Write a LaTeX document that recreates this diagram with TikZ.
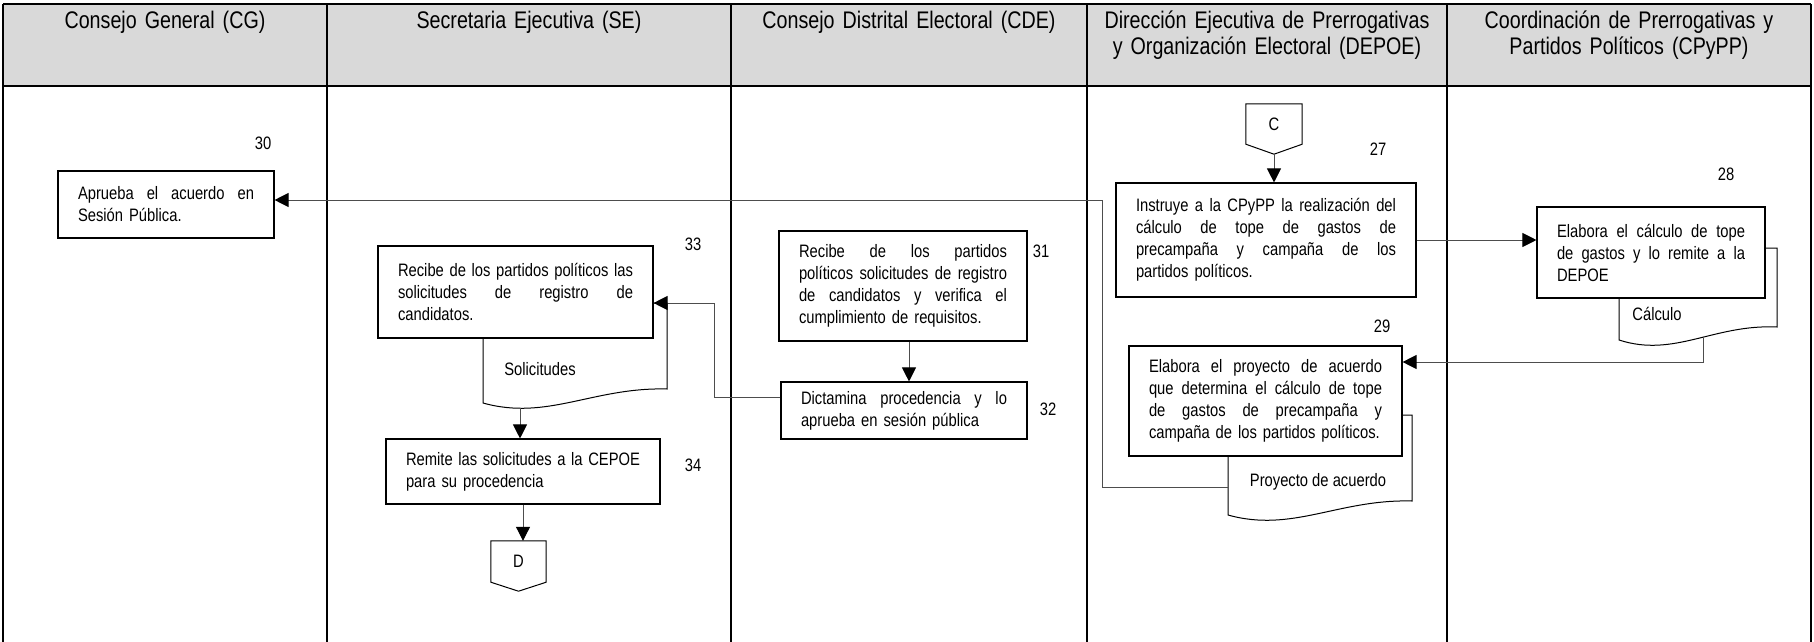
\documentclass[tikz,border=0pt]{standalone}
\usepackage{fontspec}
\setmainfont{Liberation Sans}[FakeStretch=0.82]
\usetikzlibrary{positioning,arrows.meta,calc}
\definecolor{cHead}{HTML}{D9D9D9}
\definecolor{cLine}{HTML}{4D4D4D}
\newcommand{\jl}[1]{\makebox[\linewidth][s]{\spaceskip=\fontdimen2\font plus 1fil\relax #1}}
% document symbol: left, top, right, bottom-left y, bottom-right y
\newcommand{\docshape}[5]{%
  \draw[docline] (#1,#2) -- (#3,#2) -- (#3,#5)
    .. controls ({#1+0.6*(#3-#1)},{#4-16}) and ({#1+0.35*(#3-#1)},{#4+18}) .. (#1,#4) -- cycle;}
\tikzset{
  lane/.style={line width=2.4pt,draw=black},
  lanehead/.style={text width=350pt,align=center,anchor=base,inner sep=0pt,font=\fontsize{24}{26}\selectfont},
  proc/.style={draw=black,fill=white,line width=1.1pt,inner xsep=20pt,inner ysep=0pt,align=left,font=\fontsize{18}{22}\selectfont},
  num/.style={inner sep=0pt,font=\fontsize{18}{22}\selectfont},
  doctxt/.style={inner sep=0pt,font=\fontsize{18}{22}\selectfont},
  docline/.style={draw=black,fill=white,line width=1pt},
  offpg/.style={minimum width=56pt,minimum height=40pt,inner sep=0pt,font=\fontsize{18}{22}\selectfont},
  offline/.style={draw=black,line width=1pt},
  flow/.style={-{Triangle[length=14pt,width=14pt,color=black]},line width=1pt,draw=cLine},
}
\begin{document}
\begin{tikzpicture}[x=1pt,y=-1pt]
  \useasboundingbox (0,0) rectangle (1814,642);
  % lanes
  \fill[cHead] (3,4) rectangle (1811,86);
  \draw[lane] (3,4) -- (1811,4) (3,86) -- (1811,86);
  \foreach \x in {3,327,731,1087,1447,1811}
    \draw[lane] (\x,4) -- (\x,642);

  \node[lanehead] (hCG) at (165,29) {Consejo General (CG)};
  \node[lanehead] (hSE) at (529,29) {Secretaria Ejecutiva (SE)};
  \node[lanehead] (hCDE) at (909,29) {Consejo Distrital Electoral (CDE)};
  \node[lanehead] (hDEPOE) at (1267,29) {Dirección Ejecutiva de Prerrogativas\\y Organización Electoral (DEPOE)};
  \node[lanehead] (hCPyPP) at (1629,29) {Coordinación de Prerrogativas y\\Partidos Políticos (CPyPP)};

  % documents (behind the boxes)
  \docshape{483}{303}{667}{403}{389}
  \node[doctxt] (tSol) at (540,369) {Solicitudes};
  \docshape{1619}{248}{1777}{340}{327}
  \node[doctxt] (tCalc) at (1657,314) {Cálculo};
  \docshape{1228}{415}{1412}{515}{501}
  \node[doctxt] (tProy) at (1318,482) {Proyecto de acuerdo};
  \coordinate (solB) at (520,408);
  \coordinate (calcB) at (1703,337);
  \coordinate (proyL) at (1228,487);

  % off-page connectors
  \node[offpg] (cC) at (1274,124) {C};
  \draw[offline] (cC.north west) -- (cC.north east) -- (cC.south east) -- ([yshift=-10pt]cC.south) -- (cC.south west) -- cycle;
  \coordinate (cCtip) at ([yshift=-10pt]cC.south);
  \node[offpg,minimum width=55pt,minimum height=41pt] (cD) at (518.5,561.5) {D};
  \draw[offline] (cD.north west) -- (cD.north east) -- (cD.south east) -- ([yshift=-9pt]cD.south) -- (cD.south west) -- cycle;

  % activities
  \node[proc,text width=176pt,minimum height=67pt] (b30) at (166,204.5)
    {\jl{Aprueba el acuerdo en}\\Sesión Pública.};
  \node[proc,text width=235pt,minimum height=92pt] (b33) at (515.5,292)
    {\jl{Recibe de los partidos políticos las}\\\jl{solicitudes de registro de}\\candidatos.};
  \node[proc,text width=234pt,minimum height=65pt] (b34) at (523,471.5)
    {\jl{Remite las solicitudes a la CEPOE}\\para su procedencia};
  \node[proc,text width=208pt,minimum height=110pt] (b31) at (903,286)
    {\jl{Recibe de los partidos}\\\jl{políticos solicitudes de registro}\\\jl{de candidatos y verifica el}\\cumplimiento de requisitos.};
  \node[proc,text width=206pt,minimum height=57pt] (b32) at (904,410.5)
    {\jl{Dictamina procedencia y lo}\\aprueba en sesión pública};
  \node[proc,text width=260pt,minimum height=114pt] (b27) at (1266,240)
    {\jl{Instruye a la CPyPP la realización del}\\\jl{cálculo de tope de gastos de}\\\jl{precampaña y campaña de los}\\partidos políticos.};
  \node[proc,text width=233pt,minimum height=110pt] (b29) at (1265.5,401)
    {\jl{Elabora el proyecto de acuerdo}\\\jl{que determina el cálculo de tope}\\\jl{de gastos de precampaña y}\\campaña de los partidos políticos.};
  \node[proc,text width=188pt,minimum height=91pt] (b28) at (1651,252.5)
    {\jl{Elabora el cálculo de tope}\\\jl{de gastos y lo remite a la}\\DEPOE};

  % step numbers
  \node[num] (n30) at (263,143) {30};
  \node[num] (n33) at (693,244) {33};
  \node[num] (n34) at (693,465) {34};
  \node[num] (n31) at (1041,251) {31};
  \node[num] (n32) at (1048,409) {32};
  \node[num] (n27) at (1378,149) {27};
  \node[num] (n29) at (1382,326) {29};
  \node[num] (n28) at (1726,174) {28};

  % connectors
  \draw[flow] (cCtip) -- (cCtip |- b27.north);
  \draw[flow] (b27.east) -- (b27.east -| b28.west);
  \draw[flow] (calcB) |- ([yshift=39pt]b29.east);
  \draw[flow] (proyL) -- ++(-126,0) |- ([yshift=4.5pt]b30.east);
  \draw[flow] ([xshift=6pt]b31.south) -- ([xshift=6pt]b31.south |- b32.north);
  \draw[flow] ([yshift=13.5pt]b32.west) -- ++(-66,0) |- ([yshift=-11pt]b33.east);
  \draw[flow] (solB) -- (solB |- b34.north);
  \draw[flow] (b34.south) -- (b34.south |- cD.north);
\end{tikzpicture}
\end{document}
